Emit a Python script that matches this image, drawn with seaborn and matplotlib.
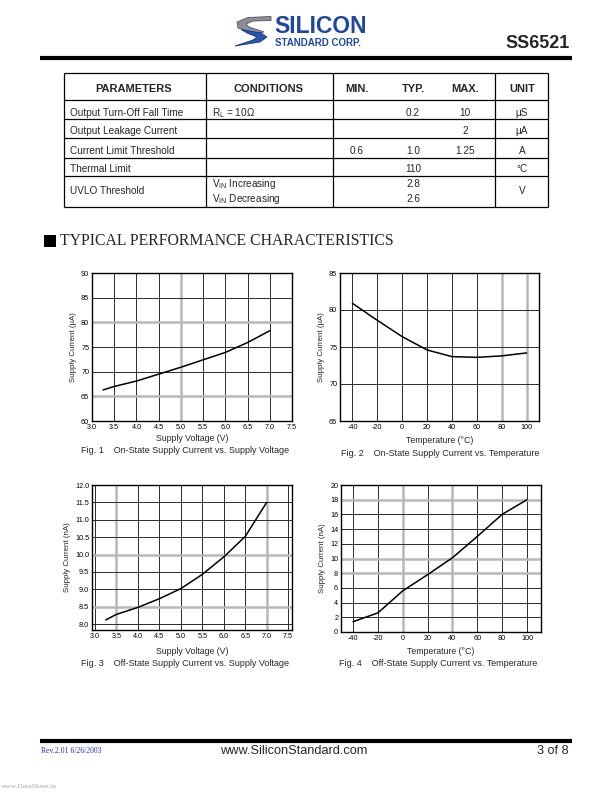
import matplotlib
matplotlib.use("Agg")
import matplotlib.pyplot as plt
from matplotlib.patches import Polygon, Rectangle
from matplotlib.lines import Line2D
import numpy as np
import pandas as pd
import seaborn as sns

# ---------------- data ----------------
fig1_voltage = [3.25, 3.5, 4.0, 4.5, 5.0, 5.5, 6.0, 6.5, 7.0]
fig1_current_uA = [66.3, 67.0, 68.1, 69.5, 70.9, 72.4, 73.9, 75.9, 78.3]

fig2_temp = [-40, -20, 0, 20, 40, 60, 80, 100]
fig2_current_uA = [80.9, 78.6, 76.4, 74.6, 73.7, 73.6, 73.8, 74.2]

fig3_voltage = [3.25, 3.5, 4.0, 4.5, 5.0, 5.5, 6.0, 6.5, 7.0]
fig3_current_nA = [8.12, 8.28, 8.48, 8.73, 9.02, 9.43, 9.93, 10.52, 11.5]

fig4_temp = [-40, -20, 0, 20, 40, 60, 80, 100]
fig4_current_nA = [1.4, 2.6, 5.6, 7.8, 10.1, 13.0, 16.0, 18.0]

volt_ticks = [3.0, 3.5, 4.0, 4.5, 5.0, 5.5, 6.0, 6.5, 7.0, 7.5]
temp_ticks = [-40, -20, 0, 20, 40, 60, 80, 100]
fig1_yticks = [60, 65, 70, 75, 80, 85, 90]
fig2_yticks = [65, 70, 75, 80, 85]
fig3_yticks = [8.0, 8.5, 9.0, 9.5, 10.0, 10.5, 11.0, 11.5, 12.0]
fig4_yticks = [0, 2, 4, 6, 8, 10, 12, 14, 16, 18, 20]

table_header = ["PARAMETERS", "CONDITIONS", "MIN.", "TYP.", "MAX.", "UNIT"]
table_params = ["Output Turn-Off Fall Time", "Output Leakage Current",
                "Current Limit Threshold", "Thermal Limit", "UVLO Threshold"]
table_min = ["", "", "0.6", "", ""]
table_typ = ["0.2", "", "1.0", "110", ""]
table_max = ["10", "2", "1.25", "", ""]
table_unit = ["μS", "μA", "A", "°C", "V"]
uvlo_typ = ["2.8", "2.6"]

captions = ["Fig. 1    On-State Supply Current vs. Supply Voltage",
            "Fig. 2    On-State Supply Current vs. Temperature",
            "Fig. 3    Off-State Supply Current vs. Supply Voltage",
            "Fig. 4    Off-State Supply Current vs. Temperature"]

# ---------------- setup ----------------
sns.set_theme(style="white")
plt.rcParams['font.family'] = ['Liberation Sans', 'DejaVu Sans']
plt.rcParams['mathtext.fontset'] = 'custom'
plt.rcParams['mathtext.rm'] = 'Liberation Sans'

W, H = 612, 792
fig = plt.figure(figsize=(W / 100, H / 100), dpi=100)
fig.patch.set_facecolor('white')


def fx(x):
    return x / W


def fy(y):
    return 1 - y / H


def rect(l, t, r, b):
    return [l / W, 1 - b / H, (r - l) / W, (b - t) / H]


def txt(x, y, s, **kw):
    kw.setdefault('ha', 'left')
    kw.setdefault('va', 'center')
    fig.text(fx(x), fy(y), s, **kw)


def hline(x0, x1, y, lw=0.8, color='black'):
    fig.add_artist(Line2D([fx(x0), fx(x1)], [fy(y), fy(y)], lw=lw, color=color,
                          transform=fig.transFigure, solid_capstyle='butt'))


def vline(x, y0, y1, lw=0.8, color='black'):
    fig.add_artist(Line2D([fx(x), fx(x)], [fy(y0), fy(y1)], lw=lw, color=color,
                          transform=fig.transFigure, solid_capstyle='butt'))


# ---------------- header ----------------
gray_poly = [(271, 16.5), (248, 17.5), (237, 22), (238, 28), (256, 33.5), (264, 32),
             (249, 27), (246, 24), (253, 21), (271, 20.5)]
blue_poly = [(241, 29.5), (261, 33), (267, 37), (260, 42), (235, 46), (253, 40),
             (257, 37), (248, 33.5)]
fig.add_artist(Polygon([(fx(a), fy(b)) for a, b in gray_poly], closed=True,
                       transform=fig.transFigure, facecolor='#8a8f96', edgecolor='#4f545b', lw=0.6))
fig.add_artist(Polygon([(fx(a), fy(b)) for a, b in blue_poly], closed=True,
                       transform=fig.transFigure, facecolor='#2456b0', edgecolor='#173a80', lw=0.6))
txt(274, 33.2, "SILICON", fontsize=16.5, fontweight='bold', color='#1d47a0', va='baseline')
txt(275, 45.5, "STANDARD CORP.", fontsize=7.0, fontweight='bold', color='#1d47a0', va='baseline')
txt(570, 44, "SS6521", fontsize=13, fontweight='bold', ha='right')
hline(40, 572, 58, lw=3.0)

# ---------------- table ----------------
t_left, t_right = 64, 548
col_lines = [206, 333, 495]
row_lines = [73, 99.5, 119, 138, 157.5, 175.5, 206.5]
for y in row_lines:
    hline(t_left, t_right, y, lw=0.9)
vline(t_left, 73, 206.5, lw=0.9)
vline(t_right, 73, 206.5, lw=0.9)
for x in col_lines:
    vline(x, 73, 206.5, lw=0.9)

hdr_x = [134, 268, 357, 413, 465, 522]
for x, s in zip(hdr_x, table_header):
    txt(x, 89.5, s, fontsize=8.0, fontweight='bold', ha='center')

TFS = 7.2
row_y = [113.5, 131.5, 150.5, 169.5, 190.5]
for i, y in enumerate(row_y):
    txt(70, y, table_params[i], fontsize=TFS)
    txt(357, y, table_min[i], fontsize=TFS, ha='center')
    txt(413, y, table_typ[i], fontsize=TFS, ha='center')
    txt(465, y, table_max[i], fontsize=TFS, ha='center')
    txt(522, y, table_unit[i], fontsize=TFS, ha='center')
txt(212, 113.5, r"R$_\mathregular{L}$ = 10Ω", fontsize=TFS)
txt(212, 184, r"V$_\mathregular{IN}$ Increasing", fontsize=TFS)
txt(212, 198.5, r"V$_\mathregular{IN}$ Decreasing", fontsize=TFS)
txt(413, 184, uvlo_typ[0], fontsize=TFS, ha='center')
txt(413, 198.5, uvlo_typ[1], fontsize=TFS, ha='center')

# ---------------- section title ----------------
fig.add_artist(Rectangle((fx(44), fy(246.5)), (56 - 44) / W, 11.5 / H,
                         transform=fig.transFigure, facecolor='black', edgecolor='none'))
txt(60, 241, "TYPICAL PERFORMANCE CHARACTERISTICS", fontsize=11.3,
    family=['Liberation Serif', 'DejaVu Serif'])

# ---------------- charts ----------------
TICK_FS = 5.2
LAB_FS = 6.3
CAP_FS = 6.5
GRID_C = '#2b2b2b'
LIGHT_C = '#b8b8b8'


def make_chart(r, xs, ys, xlim, ylim, xticks, yticks, xfmt, yfmt, xlabel, ylabel,
               light_v=(), light_h=()):
    ax = fig.add_axes(rect(*r))
    df = pd.DataFrame({'x': xs, 'y': ys})
    ax.set_xlim(*xlim)
    ax.set_ylim(*ylim)
    ax.set_xticks(xticks)
    ax.set_yticks(yticks)
    ax.set_xticklabels([xfmt.format(v) for v in xticks])
    ax.set_yticklabels([yfmt.format(v) for v in yticks])
    for v in xticks:
        if xlim[0] < v < xlim[1]:
            c, w = (LIGHT_C, 1.8) if v in light_v else (GRID_C, 0.7)
            ax.axvline(v, color=c, lw=w, zorder=1)
    for v in yticks:
        if ylim[0] < v < ylim[1] - 1e-9:
            c, w = (LIGHT_C, 1.8) if v in light_h else (GRID_C, 0.7)
            ax.axhline(v, color=c, lw=w, zorder=1)
    sns.lineplot(data=df, x='x', y='y', ax=ax, color='black', lw=1.1, zorder=3)
    ax.tick_params(axis='both', length=0, pad=2, labelsize=TICK_FS, colors='black')
    for s in ax.spines.values():
        s.set_color('black')
        s.set_linewidth(1.0)
        s.set_visible(True)
    ax.set_xlabel(xlabel, fontsize=LAB_FS, labelpad=2)
    ax.set_ylabel(ylabel, fontsize=LAB_FS - 0.6, labelpad=3)
    ax.set_facecolor('white')
    return ax


ax1 = make_chart((92, 273, 292, 421), fig1_voltage, fig1_current_uA, (3.0, 7.5), (60, 90),
                 volt_ticks, fig1_yticks, "{:.1f}", "{:d}", "Supply Voltage (V)",
                 "Supply Current (μA)", light_v=(5.0,), light_h=(80, 65))
ax2 = make_chart((340, 273, 539, 421), fig2_temp, fig2_current_uA, (-50, 110), (65, 85),
                 temp_ticks, fig2_yticks, "{:d}", "{:d}", "Temperature (°C)",
                 "Supply Current (μA)", light_v=(80, 100))
ax2.xaxis.labelpad = 4
ax3 = make_chart((92, 485, 292, 630), fig3_voltage, fig3_current_nA, (2.93, 7.59), (7.83, 12.0),
                 volt_ticks, fig3_yticks, "{:.1f}", "{:.1f}", "Supply Voltage (V)",
                 "Supply Current (nA)", light_v=(3.5, 7.0), light_h=(10.0, 8.5))
ax3.xaxis.labelpad = 5
ax4 = make_chart((341, 485, 541, 632), fig4_temp, fig4_current_nA, (-49.7, 111.3), (0, 20),
                 temp_ticks, fig4_yticks, "{:d}", "{:d}", "Temperature (°C)",
                 "Supply Current (nA)", light_v=(0, 40), light_h=(18, 10, 8))
ax4.xaxis.labelpad = 4

txt(185, 450, captions[0], fontsize=CAP_FS, ha='center')
txt(440, 453, captions[1], fontsize=CAP_FS, ha='center')
txt(185, 664, captions[2], fontsize=CAP_FS, ha='center')
txt(438, 664, captions[3], fontsize=CAP_FS, ha='center')

# ---------------- footer ----------------
hline(40, 572, 741, lw=3.0)
txt(41, 751, "Rev.2.01 6/26/2003", fontsize=5.6, color='#2a2ad8',
    family=['Liberation Serif', 'DejaVu Serif'])
txt(294, 751, "www.SiliconStandard.com", fontsize=9.2, ha='center')
txt(569, 751, "3 of 8", fontsize=9.2, ha='right')
txt(1, 787, "www.DataSheet.in", fontsize=5.4, color='#a8a8a8',
    family=['Liberation Serif', 'DejaVu Serif'])

fig.savefig("out.png", dpi=100, facecolor='white')
